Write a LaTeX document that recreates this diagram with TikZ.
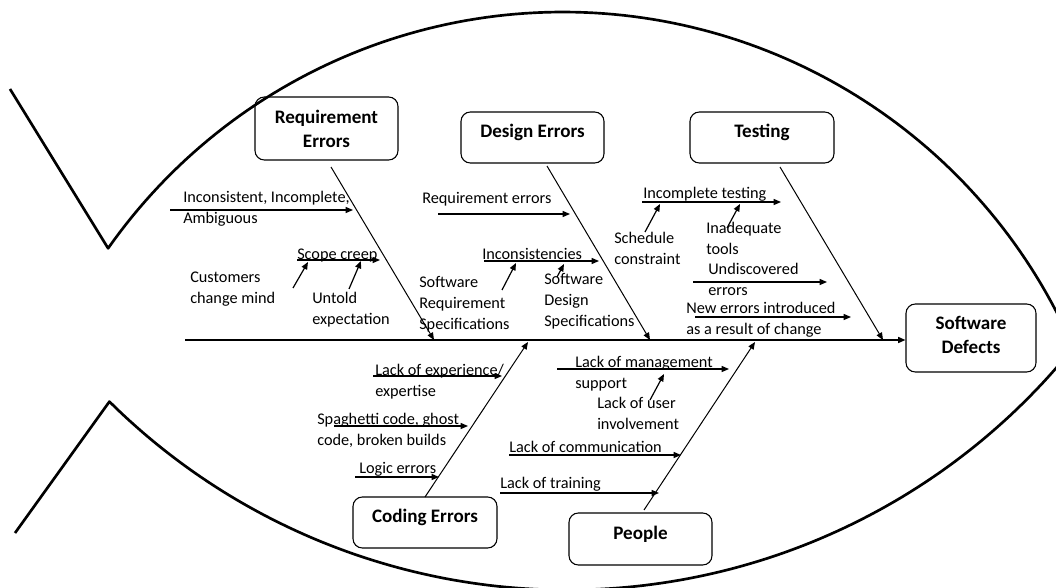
\documentclass[tikz,border=0pt]{standalone}
\usepackage{fontspec}
\setmainfont{Carlito}
\usetikzlibrary{arrows.meta}
\begin{document}
\begin{tikzpicture}[x=0.75pt,y=-0.75pt,
  fishline/.style={line width=2pt, line join=round},
  arrowtip/.style={-{Triangle[length=5.5pt,width=4.5pt]}},
  bone/.style={line width=0.75pt, arrowtip},
  subarrow/.style={line width=0.9pt, arrowtip},
  spinestyle/.style={line width=1.1pt, arrowtip},
  lbl/.style={anchor=north west, inner sep=0pt, align=left,
    font=\fontsize{12.2}{15.8}\selectfont, execute at begin node=\strut},
  catbox/.style={draw, rounded corners=7pt, line width=0.8pt, align=center,
    inner sep=0pt, font=\bfseries\fontsize{14.3}{18}\selectfont},
  oneline/.style={text height=9pt, text depth=9pt}]
\useasboundingbox (0,0) rectangle (1056,588);
\clip (0,0) rectangle (1056,588);

% fish outline
\coordinate (tailA) at (10,89);
\coordinate (tailB) at (15,533);
\draw[fishline] (tailA) -- plot[domain=144.9:23.5, samples=120] ({563+556*cos(\x)},{568-556*sin(\x)})
  -- plot[domain=38.9:134.75, samples=120] ({567+650*cos(\x)},{-60+650*sin(\x)}) -- (tailB);

% category boxes
\node[catbox, minimum width=107.25pt, minimum height=47.25pt] (req) at (326.5,128.5) {Requirement\\Errors};
\node[catbox, oneline, minimum width=107.25pt, minimum height=38.25pt] (des) at (532.5,137.5) {Design Errors};
\node[catbox, oneline, minimum width=108pt, minimum height=38.25pt] (tst) at (762,137.5) {Testing};
\node[catbox, minimum width=97.5pt, minimum height=51pt] (sd) at (971,338) {Software\\Defects\\[-14pt]\mbox{}};
\node[catbox, oneline, minimum width=108pt, minimum height=38.25pt] (cod) at (425,522.5) {Coding Errors};
\node[catbox, oneline, minimum width=107.25pt, minimum height=39pt] (ppl) at (640.5,539) {People};

% spine
\coordinate (spS) at (185,340);
\draw[spinestyle] (spS) -- (sd.west |- spS);

% bones
\coordinate (reqS) at (331,167); \coordinate (reqE) at (434,340);
\coordinate (desS) at (547,166); \coordinate (desE) at (650,340);
\coordinate (tstS) at (780,167); \coordinate (tstE) at (883,340);
\coordinate (codS) at (425,497); \coordinate (codE) at (528,342);
\coordinate (pplS) at (644,510); \coordinate (pplE) at (755,342);
\draw[bone] (reqS) -- (reqE);
\draw[bone] (desS) -- (desE);
\draw[bone] (tstS) -- (tstE);
\draw[bone] (codS) -- (codE);
\draw[bone] (pplS) -- (pplE);

% labels
\node[lbl] (l1) at (183,191.3) {Inconsistent, Incomplete,\\Ambiguous};
\node[lbl] (l2) at (297,244.3) {Scope creep};
\node[lbl] (l3) at (190,271.8) {Customers\\change mind};
\node[lbl] (l4) at (312,292.3) {Untold\\expectation};
\node[lbl] (l5) at (422,188.3) {Requirement errors};
\node[lbl] (l6) at (482,244.3) {Inconsistencies};
\node[lbl] (l7) at (419,276.3) {Software\\Requirement\\Specifications};
\node[lbl] (l8) at (544,273.3) {Software\\Design\\Specifications};
\node[lbl] (l9) at (643,183.8) {Incomplete testing};
\node[lbl] (l10) at (614,232.3) {Schedule\\constraint};
\node[lbl] (l11) at (706,222.3) {Inadequate\\tools};
\node[lbl] (l12) at (708,263.3) {Undiscovered\\errors};
\node[lbl] (l13) at (686,301.5) {New errors introduced\\as a result of change};
\node[lbl] (l14) at (375,363.5) {Lack of experience/\\expertise};
\node[lbl] (l15) at (317,413.3) {Spaghetti code, ghost\\code, broken builds};
\node[lbl] (l16) at (359,458.3) {Logic errors};
\node[lbl] (l17) at (575,355.5) {Lack of management\\support};
\node[lbl] (l18) at (597,396.5) {Lack of user\\involvement};
\node[lbl] (l19) at (509,437.5) {Lack of communication};
\node[lbl] (l20) at (500,473.8) {Lack of training};

% sub-cause arrows
\coordinate (a1s) at (170,210);  \coordinate (a1e) at (353,210);
\coordinate (a2s) at (297,260);  \coordinate (a2e) at (380,260);
\coordinate (a3s) at (293,288);  \coordinate (a3e) at (308,262);
\coordinate (a4s) at (349,289);  \coordinate (a4e) at (361,261);
\coordinate (a5s) at (438,214);  \coordinate (a5e) at (570,214);
\coordinate (a6s) at (484,261);  \coordinate (a6e) at (599,261);
\coordinate (a7s) at (502,290);  \coordinate (a7e) at (516,263);
\coordinate (a8s) at (557,277);  \coordinate (a8e) at (564,264);
\coordinate (a9s) at (642,202);  \coordinate (a9e) at (781,202);
\coordinate (a10s) at (645,232); \coordinate (a10e) at (660,204);
\coordinate (a11s) at (727,228); \coordinate (a11e) at (740,204);
\coordinate (a12s) at (693,282); \coordinate (a12e) at (827,282);
\coordinate (a13s) at (695,317); \coordinate (a13e) at (851,317);
\coordinate (a14s) at (373,376); \coordinate (a14e) at (502,376);
\coordinate (a15s) at (334,426); \coordinate (a15e) at (468,426);
\coordinate (a16s) at (355,477); \coordinate (a16e) at (439,477);
\coordinate (a17s) at (557,369); \coordinate (a17e) at (729,369);
\coordinate (a18s) at (650,400); \coordinate (a18e) at (664,374);
\coordinate (a19s) at (509,455); \coordinate (a19e) at (681,455);
\coordinate (a20s) at (500,493); \coordinate (a20e) at (659,493);
\foreach \i in {1,...,20} {\draw[subarrow] (a\i s) -- (a\i e);}
\end{tikzpicture}
\end{document}
